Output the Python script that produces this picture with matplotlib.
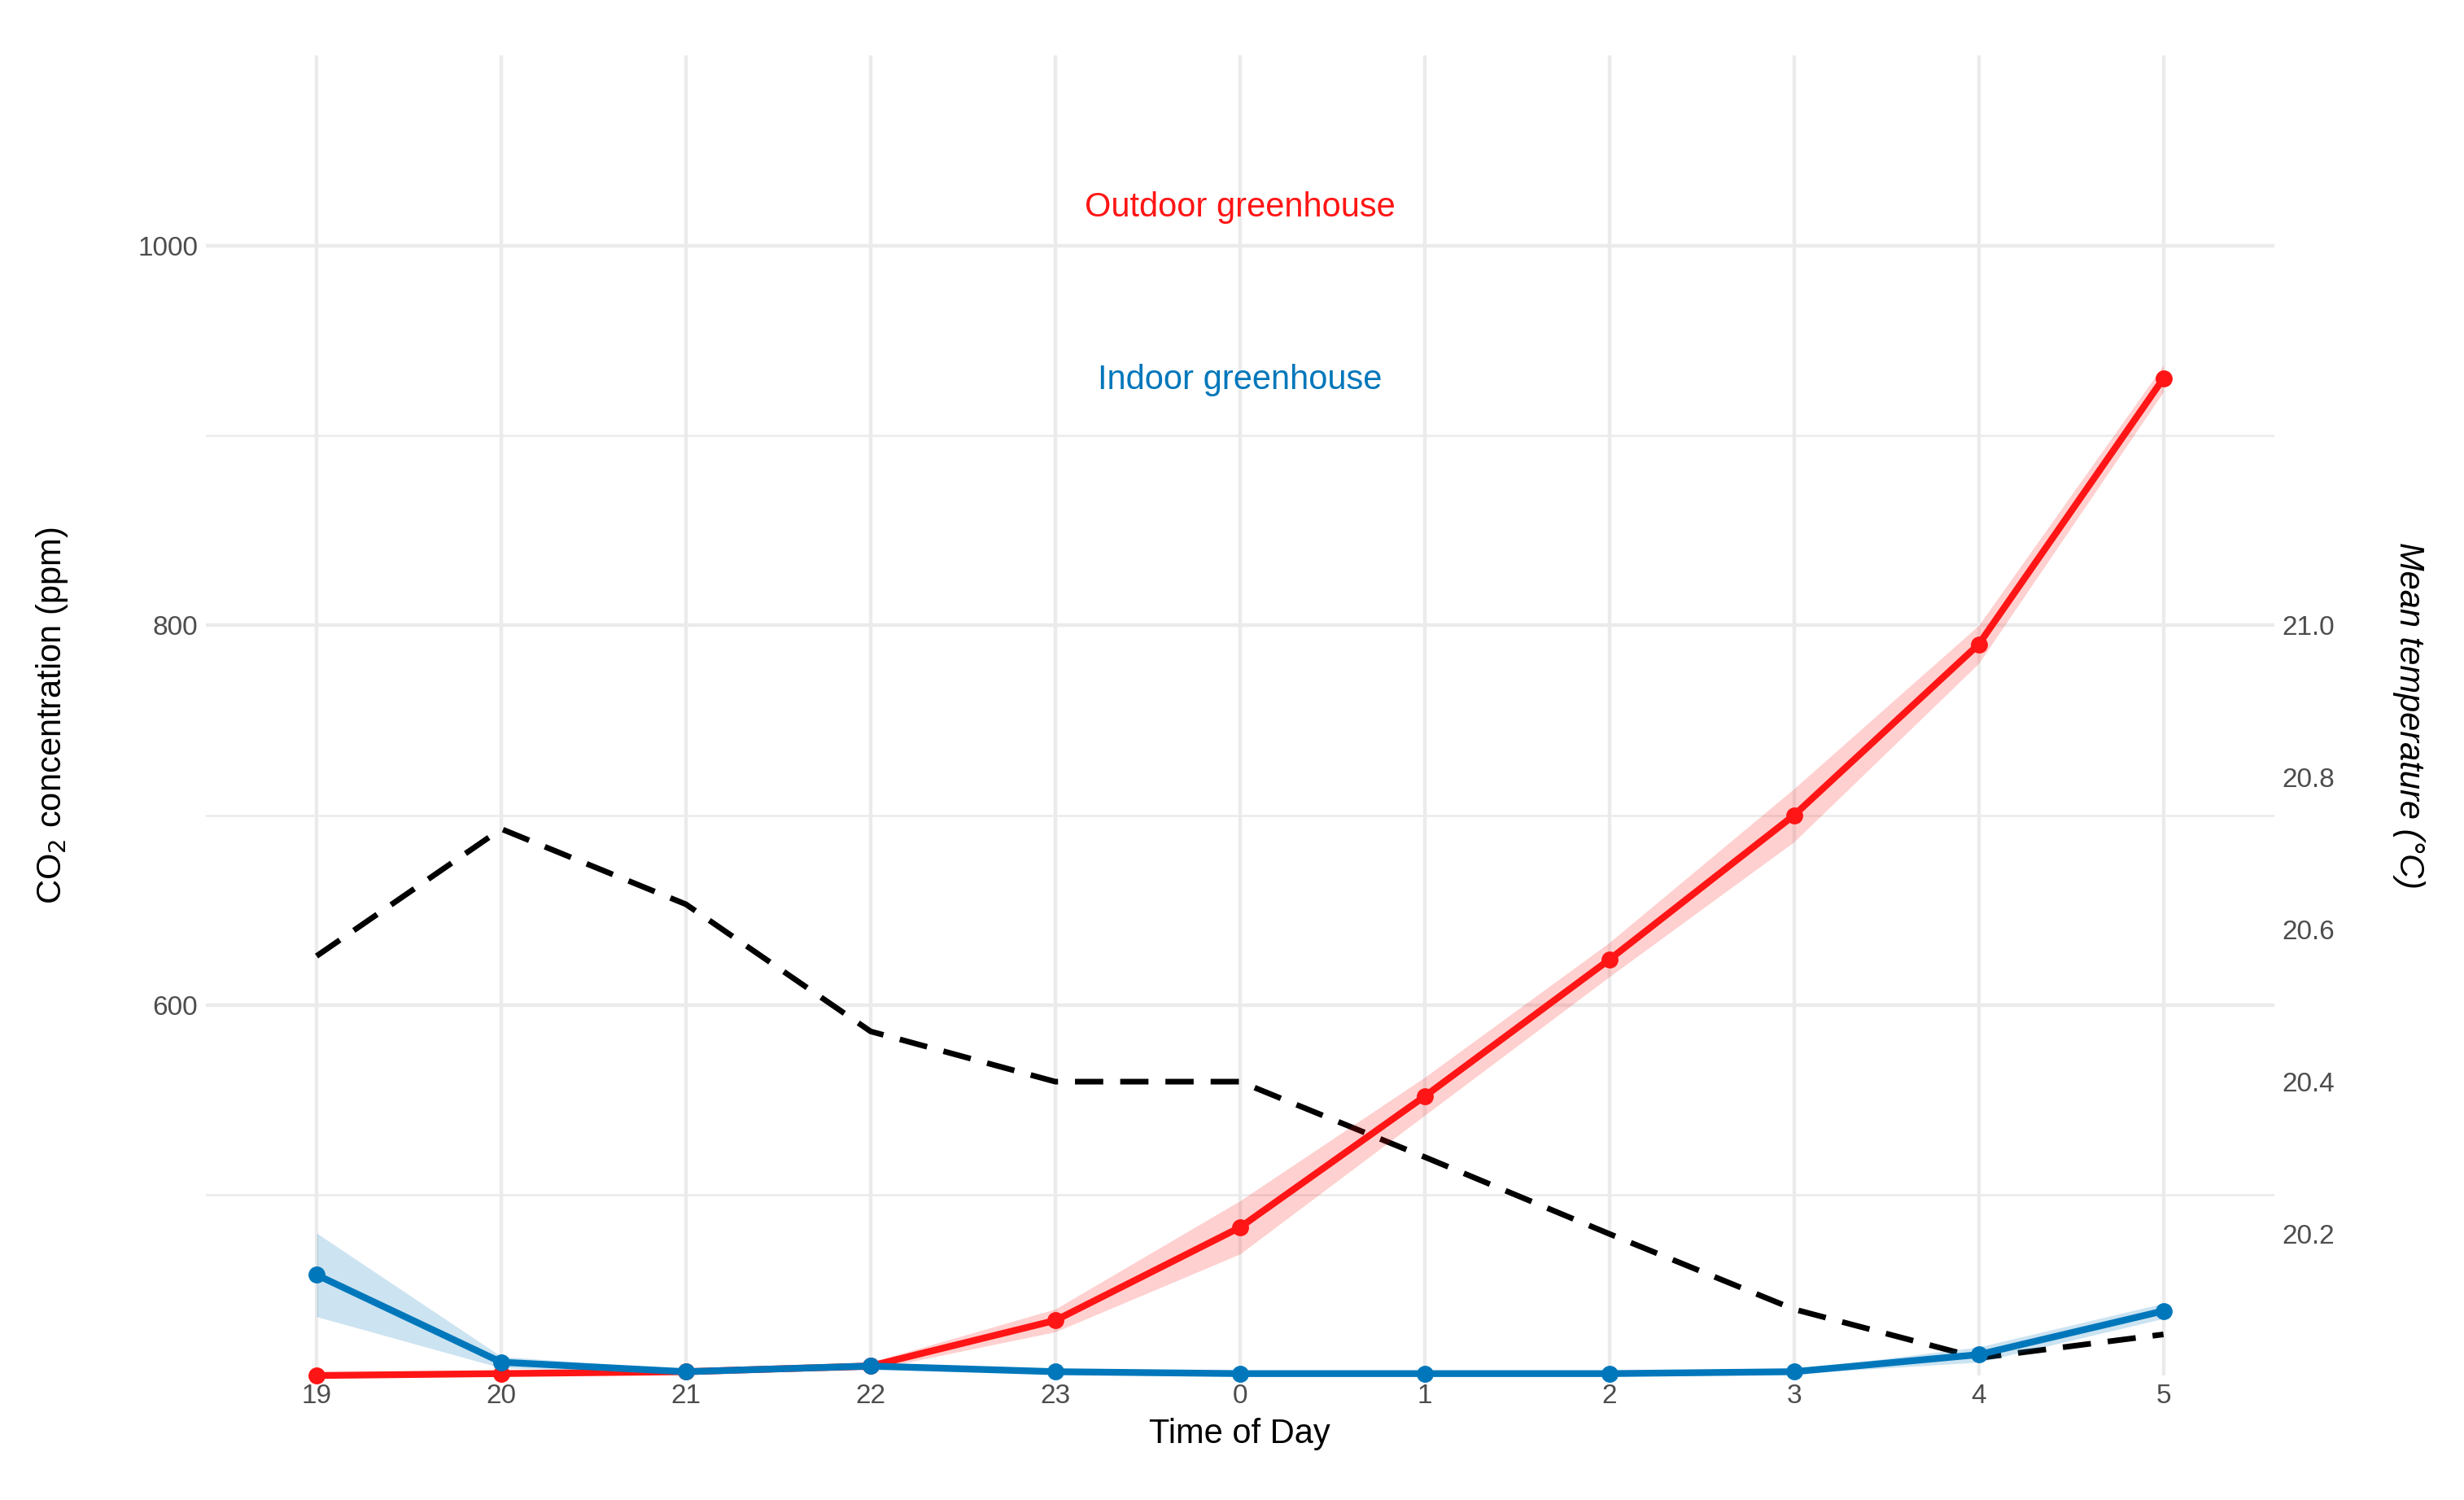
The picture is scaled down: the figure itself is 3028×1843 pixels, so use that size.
import matplotlib
matplotlib.use("Agg")
import matplotlib.pyplot as plt
import numpy as np

plt.rcParams['font.family'] = ['Liberation Sans', 'DejaVu Sans']

hours = ["19", "20", "21", "22", "23", "0", "1", "2", "3", "4", "5"]
outdoor = [405, 406, 407, 410, 434, 483, 552, 624, 700, 790, 930]
outdoor_err = [1, 1, 1, 2, 6, 14, 10, 9, 14, 10, 7]
indoor = [458, 412, 407, 410, 407, 406, 406, 406, 407, 416, 439]
indoor_err = [22, 3, 1, 2, 1, 1, 1, 1, 1, 4, 4]
temp = [20.565, 20.732, 20.633, 20.466, 20.4, 20.4, 20.301, 20.2, 20.101, 20.037, 20.068]

RED = "#FF1515"
BLUE = "#0077BB"

fig = plt.figure(figsize=(15.14, 9.215), dpi=200)
rect = [0.0835, 0.083, 0.8395, 0.88]
ax = fig.add_axes(rect)
x = np.arange(len(hours))
o = np.array(outdoor); oe = np.array(outdoor_err)
i = np.array(indoor); ie = np.array(indoor_err)

ax.set_xlim(-0.6, 10.6)
ax.set_ylim(405, 1100)
ax.set_yticks([600, 800, 1000])
ax.set_yticks([500, 700, 900], minor=True)
ax.set_xticks(x)
ax.set_xticklabels(hours)
ax.grid(True, which='major', color='#EBEBEB', lw=1.6)
ax.grid(True, which='minor', axis='y', color='#EBEBEB', lw=0.9)
for s in ax.spines.values():
    s.set_visible(False)
ax.tick_params(length=0, labelsize=12, colors='#4D4D4D', which='both')
ax.set_axisbelow(True)

ax2 = ax.twinx()
ax2.set_ylim(20.014, 21.748)
ax2.set_yticks([20.2, 20.4, 20.6, 20.8, 21.0])
ax2.set_yticklabels(["20.2", "20.4", "20.6", "20.8", "21.0"])
for s in ax2.spines.values():
    s.set_visible(False)
ax2.tick_params(length=0, labelsize=12, colors='#4D4D4D')
ax2.plot(x, temp, color='black', lw=2.5, ls=(0, (5, 3)), zorder=2)

ax3 = fig.add_axes(rect, zorder=5)
ax3.patch.set_visible(False)
ax3.set_xlim(-0.6, 10.6)
ax3.set_ylim(405, 1100)
ax3.axis('off')
ax3.fill_between(x, o - oe, o + oe, color=RED, alpha=0.2, lw=0, clip_on=False)
ax3.fill_between(x, i - ie, i + ie, color=BLUE, alpha=0.2, lw=0, clip_on=False)
ax3.plot(x, outdoor, color=RED, lw=3, marker='o', ms=6.5, clip_on=False)
ax3.plot(x, indoor, color=BLUE, lw=3, marker='o', ms=6.5, clip_on=False)
ax3.text(5, 1020, "Outdoor greenhouse", color=RED, fontsize=15, ha='center', va='center')
ax3.text(5, 929, "Indoor greenhouse", color=BLUE, fontsize=15, ha='center', va='center')

ax.set_xlabel("Time of Day", fontsize=15, labelpad=4)
ax.set_ylabel("CO$_2$ concentration (ppm)", fontsize=15, labelpad=30)
ax2.set_ylabel("Mean temperature (°C)", fontsize=15, style='italic', rotation=270, labelpad=40)

fig.savefig("out.png", dpi=200)
